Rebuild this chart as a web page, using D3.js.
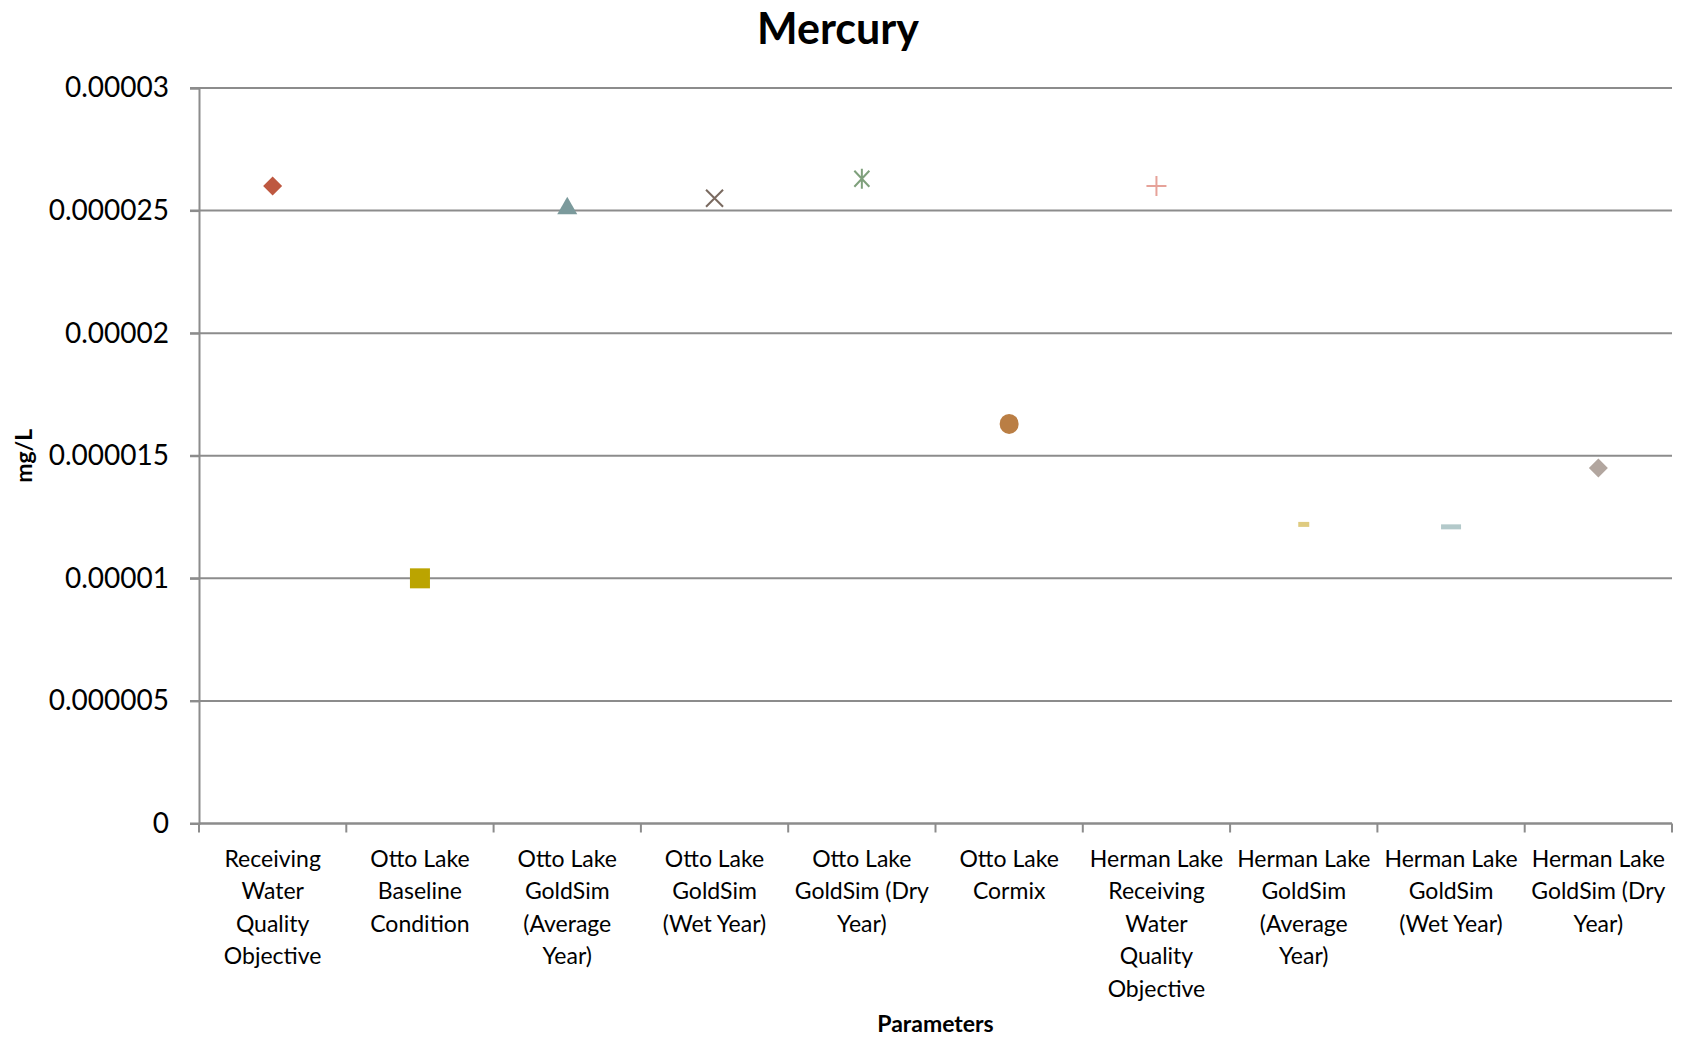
<!DOCTYPE html>
<html>
<head>
<meta charset="utf-8">
<script src="https://cdn.jsdelivr.net/npm/d3@7"></script>
<style>
  html, body { margin: 0; padding: 0; background: #ffffff; }
  svg { display: block; }
  text { font-family: Lato, "Noto Sans", sans-serif; fill: #000; }
</style>
</head>
<body>
<svg id="chart" width="1688" height="1038"></svg>
<script>
// Mercury concentrations by scenario (mg/L)
const categories = [
  "Receiving\nWater\nQuality\nObjective",
  "Otto Lake\nBaseline\nCondition",
  "Otto Lake\nGoldSim\n(Average\nYear)",
  "Otto Lake\nGoldSim\n(Wet Year)",
  "Otto Lake\nGoldSim (Dry\nYear)",
  "Otto Lake\nCormix",
  "Herman Lake\nReceiving\nWater\nQuality\nObjective",
  "Herman Lake\nGoldSim\n(Average\nYear)",
  "Herman Lake\nGoldSim\n(Wet Year)",
  "Herman Lake\nGoldSim (Dry\nYear)"
];
const values = [0.000026, 0.00001, 0.0000252, 0.0000255, 0.0000263, 0.0000163, 0.000026, 0.0000122, 0.0000121, 0.0000145];
const markerShapes = ["diamond", "square", "triangle", "x", "star", "circle", "plus", "dashShort", "dashLong", "diamond"];
const markerColors = ["#BE5840", "#BBA400", "#7B9A9C", "#7A6A60", "#7FA07C", "#BA7E44", "#E6A299", "#DFCB80", "#B3C9CA", "#B2A69F"];
const yTicks = [0, 0.000005, 0.00001, 0.000015, 0.00002, 0.000025, 0.00003];
const yTickLabels = ["0", "0.000005", "0.00001", "0.000015", "0.00002", "0.000025", "0.00003"];

const svg = d3.select("#chart");
const plot = { left: 199, right: 1672, top: 88, bottom: 823.5 };
const gridColor = "#8C8C8C";

const x = d3.scaleBand().domain(d3.range(categories.length)).range([plot.left, plot.right]).padding(0);
const y = d3.scaleLinear().domain([0, 0.00003]).range([plot.bottom, plot.top]);

// Horizontal gridlines
svg.append("g").selectAll("line")
  .data(yTicks)
  .join("line")
  .attr("x1", plot.left - 9).attr("x2", plot.right)
  .attr("y1", d => y(d)).attr("y2", d => y(d))
  .attr("stroke", gridColor).attr("stroke-width", 2);

// Y axis
const yAxis = d3.axisLeft(y).tickValues(yTicks)
  .tickFormat((d, i) => yTickLabels[i]).tickSize(9).tickPadding(21);
const gy = svg.append("g").attr("transform", `translate(${plot.left},0)`).call(yAxis);
gy.select(".domain").attr("stroke", gridColor).attr("stroke-width", 2);
gy.selectAll(".tick line").attr("stroke", gridColor).attr("stroke-width", 2);
gy.selectAll(".tick text").style("font-family", "Lato, sans-serif").style("font-size", "28px").attr("fill", "#000");

// X axis line and tick marks at band boundaries
const boundaries = d3.range(categories.length + 1).map(i => plot.left + i * x.bandwidth());
svg.append("line")
  .attr("x1", plot.left).attr("x2", plot.right)
  .attr("y1", plot.bottom).attr("y2", plot.bottom)
  .attr("stroke", gridColor).attr("stroke-width", 2);
svg.append("g").selectAll("line")
  .data(boundaries)
  .join("line")
  .attr("x1", d => d).attr("x2", d => d)
  .attr("y1", plot.bottom).attr("y2", plot.bottom + 9)
  .attr("stroke", gridColor).attr("stroke-width", 2);

// Category labels (wrapped)
const labelG = svg.append("g");
categories.forEach((c, i) => {
  const t = labelG.append("text")
    .attr("x", x(i) + x.bandwidth() / 2)
    .attr("y", 867)
    .attr("text-anchor", "middle")
    .style("font-size", "23px");
  c.split("\n").forEach((line, j) => {
    t.append("tspan").attr("x", x(i) + x.bandwidth() / 2).attr("dy", j === 0 ? 0 : 32.4).text(line);
  });
});

// Markers
function markerPath(shape) {
  switch (shape) {
    case "diamond": return "M0,-9.5L9.5,0L0,9.5L-9.5,0Z";
    case "square": return "M-10,-10H10V10H-10Z";
    case "triangle": return "M0,-9L10,8.5L-10,8.5Z";
    case "x": return "M-8.5,-8.5L8.5,8.5M-8.5,8.5L8.5,-8.5";
    case "star": return "M-7.5,-8L7.5,8M-7.5,8L7.5,-8M0,-10V10";
    case "plus": return "M-10,0H10M0,-10V10";
    case "dashShort": return "M-5.5,-2.5H5.5V2.5H-5.5Z";
    case "dashLong": return "M-10,-2.5H10V2.5H-10Z";
  }
  return null;
}
const strokeShapes = new Set(["x", "star", "plus"]);
const mg = svg.append("g");
values.forEach((v, i) => {
  const cx = x(i) + x.bandwidth() / 2, cy = y(v);
  const shape = markerShapes[i];
  if (shape === "circle") {
    mg.append("ellipse").attr("cx", cx).attr("cy", cy).attr("rx", 9.5).attr("ry", 10)
      .attr("fill", markerColors[i]);
  } else {
    const p = mg.append("path").attr("d", markerPath(shape))
      .attr("transform", `translate(${cx},${cy})`);
    if (strokeShapes.has(shape)) {
      p.attr("fill", "none").attr("stroke", markerColors[i]).attr("stroke-width", 2);
    } else {
      p.attr("fill", markerColors[i]);
    }
  }
});

// Titles
svg.append("text")
  .attr("x", 838).attr("y", 44)
  .attr("text-anchor", "middle")
  .style("font-size", "43px").style("font-weight", "bold")
  .text("Mercury");

svg.append("text")
  .attr("x", (plot.left + plot.right) / 2).attr("y", 1032)
  .attr("text-anchor", "middle")
  .style("font-size", "23px").style("font-weight", "bold")
  .text("Parameters");

svg.append("text")
  .attr("transform", `translate(32,${(plot.top + plot.bottom) / 2}) rotate(-90)`)
  .attr("text-anchor", "middle")
  .style("font-size", "23px").style("font-weight", "bold")
  .text("mg/L");
</script>
</body>
</html>
